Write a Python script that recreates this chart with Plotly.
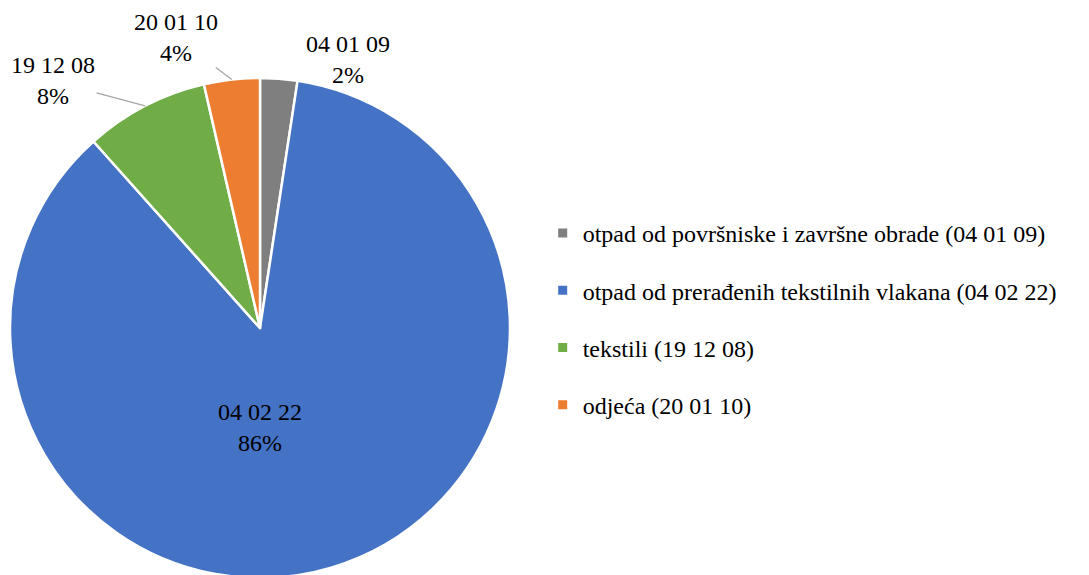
import math
import plotly.graph_objects as go

# data (clockwise from 12 o'clock)
names = [
    "otpad od površniske i završne obrade (04 01 09)",
    "otpad od prerađenih tekstilnih vlakana (04 02 22)",
    "tekstili (19 12 08)",
    "odjeća (20 01 10)",
]
codes = ["04 01 09", "04 02 22", "19 12 08", "20 01 10"]
shares = [2.4, 86.0, 8.0, 3.6]
colors = ["#7f7f7f", "#4472c4", "#70ad47", "#ed7d31"]

W, H = 1089, 575
FONT = "DejaVu Serif"

# pie placement (paper); the page has an 8px body margin
dom_x = [2 / W, 502 / W]
dom_y = [5 / H, 1 - 70 / H]
cx = sum(dom_x) / 2
cy = sum(dom_y) / 2
r_px = min((dom_x[1] - dom_x[0]) * W, (dom_y[1] - dom_y[0]) * H) / 2

fig = go.Figure()
fig.add_trace(
    go.Pie(
        labels=names,
        values=shares,
        sort=False,
        direction="clockwise",
        rotation=0,
        domain=dict(x=dom_x, y=dom_y),
        marker=dict(colors=colors, line=dict(color="white", width=2.5)),
        textinfo="none",
        showlegend=False,
        hoverinfo="label+percent",
    )
)

# legend entries as separate traces so the gaps can match
for name, col in zip(names, colors):
    fig.add_trace(
        go.Scatter(
            x=[None], y=[None], mode="markers", name=name, legendgroup=name,
            marker=dict(symbol="square", size=9, color=col),
        )
    )

# data labels: small slices outside (anchored at mid-angle), big one inside
total = sum(shares)
offsets = {0: (69, -19, False), 2: (-92, -25, True), 3: (-56, -42, True)}
cum = 0.0
for i, v in enumerate(shares):
    mid = (cum + v / 2) / total * 2 * math.pi
    cum += v
    label = f"{codes[i]}<br>{round(v / total * 100)}%"
    ann = dict(
        xref="paper", yref="paper", text=label, align="center",
        xanchor="center", yanchor="middle",
        font=dict(family="Times New Roman", size=24, color="black"),
    )
    if i not in offsets:
        ann.update(x=cx, y=cy, showarrow=False, yshift=-99)
        fig.add_annotation(**ann)
        continue
    px_x = cx * W + r_px * math.sin(mid)
    px_y = (1 - cy) * H - r_px * math.cos(mid)
    dx, dy, arrow = offsets[i]
    ann.update(x=px_x / W, y=1 - px_y / H)
    if arrow:
        ann.update(showarrow=True, ax=dx, ay=dy, arrowhead=0,
                   arrowwidth=1.3, arrowcolor="#a6a6a6", standoff=0)
    else:
        ann.update(showarrow=False, xshift=dx, yshift=-dy)
    fig.add_annotation(**ann)

fig.update_layout(
    width=W, height=H,
    margin=dict(l=0, r=0, t=0, b=0),
    paper_bgcolor="white", plot_bgcolor="white",
    font=dict(family=FONT, size=24, color="black"),
    xaxis=dict(visible=False), yaxis=dict(visible=False),
    legend=dict(
        x=0.491, y=1 - 311 / H, xanchor="left", yanchor="middle",
        font=dict(family="serif", size=24, color="black"),
        tracegroupgap=23, itemclick=False,
    ),
)

fig.write_html("out.html")
